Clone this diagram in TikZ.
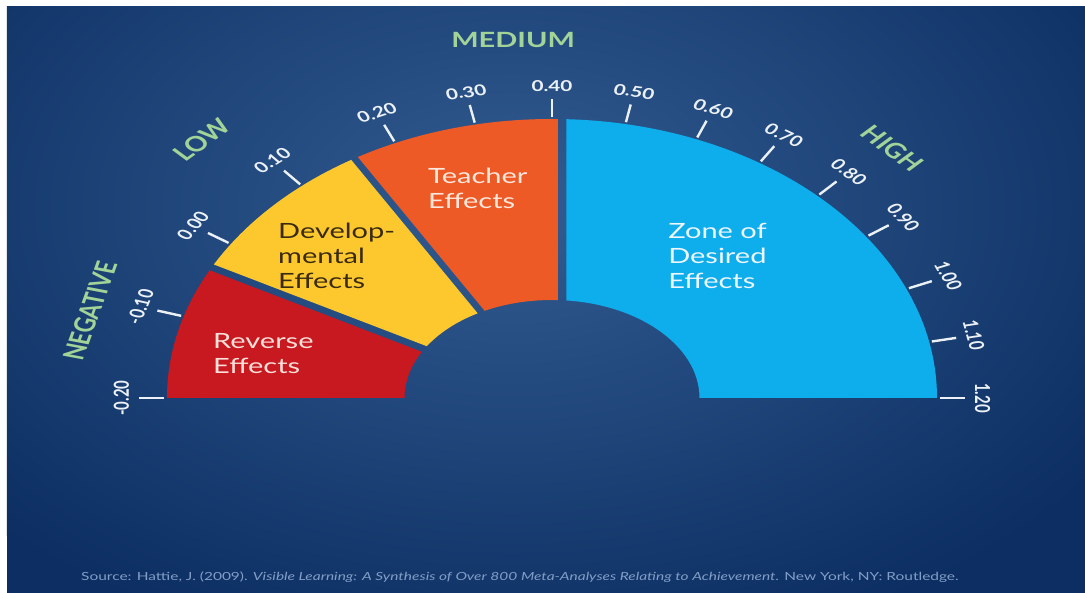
\documentclass[tikz,border=0pt]{standalone}
\usepackage{fontspec}
\setmainfont{Lato}

\definecolor{bgdark}{RGB}{12,46,98}
\definecolor{bglight}{RGB}{50,92,145}
\definecolor{reversered}{RGB}{200,24,32}
\definecolor{devyellow}{RGB}{252,200,46}
\definecolor{teachorange}{RGB}{238,90,38}
\definecolor{zoneblue}{RGB}{14,174,236}
\definecolor{tickwhite}{RGB}{236,241,246}
\definecolor{rangegreen}{RGB}{162,212,152}
\definecolor{sourceblue}{RGB}{130,158,200}

% upper half ring of the barometer
\newcommand{\gaugeband}{(-385,0) arc[start angle=180, end angle=0, x radius=385, y radius=279]
    -- (147.5,0) arc[start angle=0, end angle=180, x radius=147.5, y radius=98] -- cycle}

\begin{document}
\begin{tikzpicture}[
    x=1pt, y=1pt,
    tick/.style={draw=tickwhite, line width=2.4pt},
    ticklabel/.style={text=tickwhite, inner sep=0pt, font=\fontsize{15}{15}\selectfont\bfseries},
    rangelabel/.style={text=rangegreen, inner sep=0pt, font=\fontsize{21}{21}\selectfont\bfseries},
    bandlabel/.style={anchor=west, align=left, inner sep=0pt, font=\fontsize{21}{25}\selectfont}
]
    \useasboundingbox (-552,-195) rectangle (533,398);

    % Background
    \fill[white] (-552,-195) rectangle (533,398);
    \begin{scope}
        \clip (-545,-195) rectangle (533,391);
        \fill[bgdark] (-545,-195) rectangle (533,391);
        \shade[inner color=bglight, outer color=bgdark] (-40,190) ellipse [x radius=720, y radius=460];
    \end{scope}

    % Bands, with three thin gaps between them
    \begin{scope}[even odd rule]
        \clip (-560,-10) rectangle (560,420)
            (249:3.5) -- (159.33:600) -- (158.67:600) -- (69:3.5) -- cycle
            (219.5:3.5) -- (129.83:600) -- (129.17:600) -- (39.5:3.5) -- cycle
            (6,-10) rectangle (14.5,420);
        \begin{scope}
            \clip (0,0) -- (159:600) -- (180:600) -- cycle;
            \fill[reversered] \gaugeband;
        \end{scope}
        \begin{scope}
            \clip (0,0) -- (129.5:600) -- (159:600) -- cycle;
            \fill[devyellow] \gaugeband;
        \end{scope}
        \begin{scope}
            \clip (0,0) -- (10,0) -- (10,600) -- (129.5:600) -- cycle;
            \fill[teachorange] \gaugeband;
        \end{scope}
        \begin{scope}
            \clip (10,0) rectangle (600,600);
            \fill[zoneblue] \gaugeband;
        \end{scope}
    \end{scope}

    \begin{scope}[xscale=1.38, transform shape]
        % Scale ticks and values
        \foreach \ang/\val [count=\i] in {180/-0.20, 163/-0.10, 146.5/0.00, 130.5/0.10,
            114/0.20, 101.5/0.30, 90/0.40, 79/0.50, 68/0.60, 57.4/0.70, 46.4/0.80,
            35.3/0.90, 23/1.00, 11.6/1.10, 0/1.20} {
            \draw[tick] (\ang:281) -- (\ang:299);
            \node[ticklabel, rotate=\ang-90] (val\i) at (\ang:312) {\val};
        }

        % Ranges
        \node[rangelabel, rotate=75.4] (negative) at (165.4:346) {NEGATIVE};
        \node[rangelabel, rotate=44.5] (low) at (134.5:362) {LOW};
        \node[rangelabel] (medium) at (94.5:359) {MEDIUM};
        \node[rangelabel, rotate=-44.7] (high) at (45.3:351) {HIGH};

        % Band names
        \node[bandlabel, text={rgb,255:red,251;green,224;blue,218}] (reverse) at (-245.7,44)
            {Reverse\\Effects};
        \node[bandlabel, text={rgb,255:red,58;green,42;blue,18}] (developmental) at (-198.6,142)
            {Develop-\\mental\\Effects};
        \node[bandlabel, text={rgb,255:red,253;green,232;blue,222}] (teacher) at (-89.9,210)
            {Teacher\\Effects};
        \node[bandlabel, text={rgb,255:red,238;green,246;blue,255}] (zone) at (84.1,142)
            {Zone of\\Desired\\Effects};

        % Reference line
        \node[text=sourceblue, font=\fontsize{11.2}{11.2}\selectfont] (source) at (-23.2,-179)
            {Source: Hattie, J. (2009). \textit{Visible Learning: A Synthesis of Over 800
            Meta-Analyses Relating to Achievement}. New York, NY: Routledge.};
    \end{scope}

\end{tikzpicture}
\end{document}
